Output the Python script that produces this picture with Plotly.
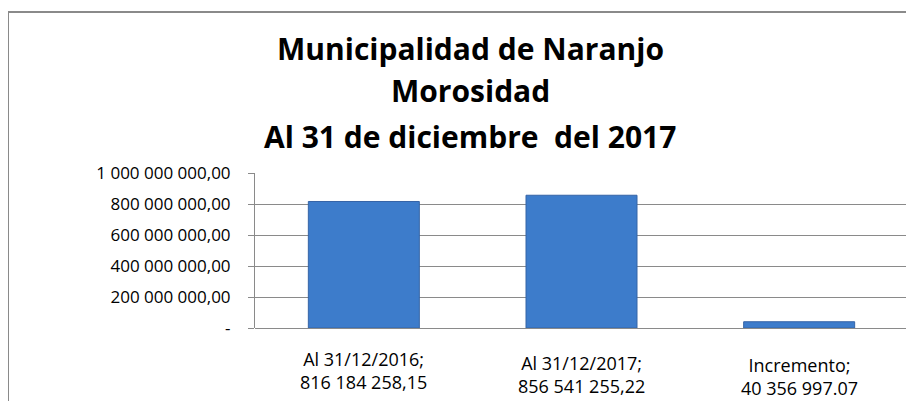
import plotly.graph_objects as go

# ---- data ----
categories = ["Al 31/12/2016", "Al 31/12/2017", "Incremento"]
values = [816184258.15, 856541255.22, 40356997.07]
value_labels = ["816 184 258,15", "856 541 255,22", "40 356 997.07"]
tick_values = [0, 200000000, 400000000, 600000000, 800000000, 1000000000]
title_lines = ["Municipalidad de Naranjo", "Morosidad", "Al 31 de diciembre \u00a0del 2017"]


def fmt_tick(v):
    if v == 0:
        return "-"
    return f"{v:,.2f}".replace(",", " ").replace(".", ",")


tick_text = [fmt_tick(v) for v in tick_values]

# page offset (body margin) and target plot-area pixels in the screenshot
OFF = 8
PL, PR, PT, PB = 255 - OFF, 908 - OFF, 173 - OFF, 328 - OFF
W, H = 914, 401
FONT = "Open Sans"


def py(Y):
    return (PB - (Y - OFF)) / (PB - PT)


def px(X):
    return ((X - OFF) - PL) / (PR - PL)


fig = go.Figure()
fig.add_trace(go.Bar(
    x=categories, y=values,
    marker=dict(color="#3D7CCB", line=dict(color="#3564A6", width=1)),
    width=0.51,
    hoverinfo="x+y",
))

annotations = []
title_y = [48, 90, 136]
for t, yy in zip(title_lines, title_y):
    annotations.append(dict(
        text=f"<b>{t}</b>", x=px(470), y=py(yy), xref="paper", yref="paper",
        xanchor="center", yanchor="middle", showarrow=False,
        font=dict(family=FONT, size=30, color="#000000"),
    ))

label_center_y = [370, 374, 376]
for cat, lab, yc in zip(categories, value_labels, label_center_y):
    annotations.append(dict(
        text=cat + ";<br>" + lab, x=cat, y=py(yc), xref="x", yref="paper",
        xanchor="center", yanchor="middle", showarrow=False, align="center",
        font=dict(family=FONT, size=18, color="#000000"),
    ))

fig.update_layout(
    width=W, height=H,
    margin=dict(l=PL, r=W - PR, t=PT, b=H - PB, pad=0),
    paper_bgcolor="white", plot_bgcolor="white",
    showlegend=False,
    annotations=annotations,
    shapes=[dict(
        type="rect", xref="paper", yref="paper",
        x0=px(8), x1=px(930), y0=py(470), y1=py(12),
        line=dict(color="#8A8A8A", width=2), fillcolor="rgba(0,0,0,0)", layer="below",
    )],
    bargap=0.49,
)
fig.update_xaxes(
    range=[-0.5, 2.5], showticklabels=False, showgrid=False,
    showline=False, zeroline=False, ticks="",
)
fig.update_yaxes(
    range=[0, 1000000000], tickvals=tick_values, ticktext=tick_text,
    showgrid=True, gridcolor="#8A8A8A", gridwidth=1,
    zeroline=True, zerolinecolor="#8A8A8A", zerolinewidth=1,
    showline=True, linecolor="#8A8A8A", linewidth=1,
    ticks="outside", ticklen=6, tickcolor="#8A8A8A",
    ticklabelstandoff=14,
    tickfont=dict(family=FONT, size=17, color="#000000"),
)

fig.write_html("out.html")
